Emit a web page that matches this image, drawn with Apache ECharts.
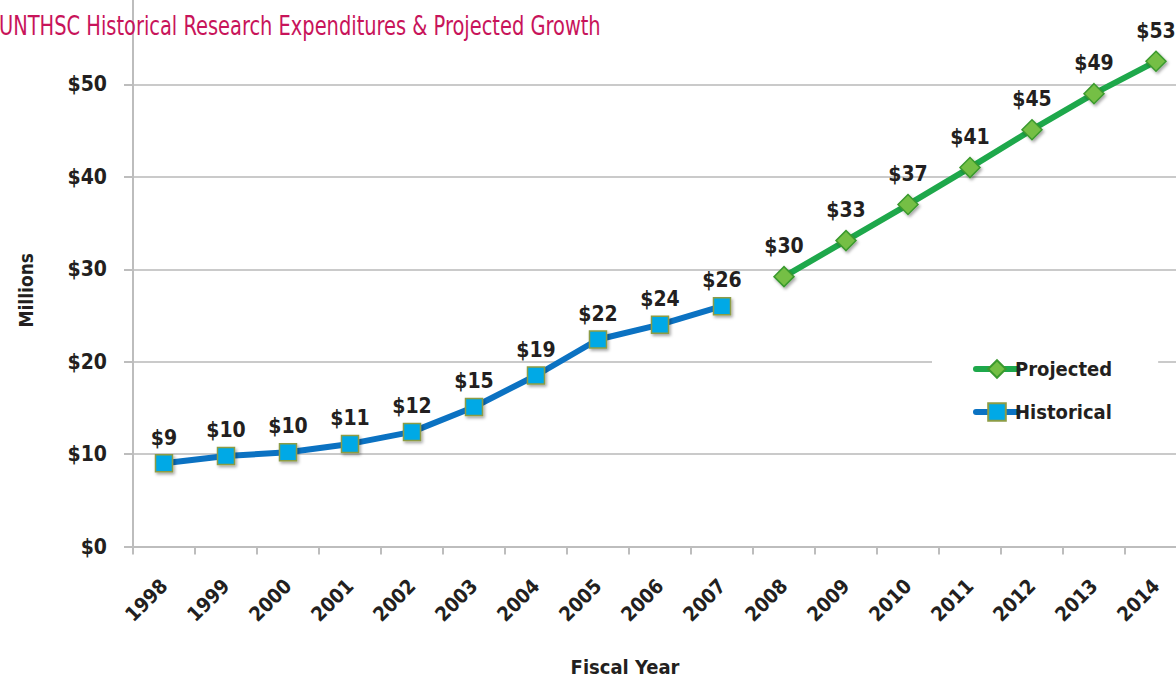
<!DOCTYPE html>
<html>
<head>
<meta charset="utf-8">
<script src="https://cdn.jsdelivr.net/npm/echarts@6/dist/echarts.min.js"></script>
<style>
html,body{margin:0;padding:0;background:#fff;}
#chart{width:1176px;height:681px;}
</style>
</head>
<body>
<div id="chart"></div>
<script>
// ---- data ----
const titleText = 'UNTHSC Historical Research Expenditures & Projected Growth';
const years = ['1998','1999','2000','2001','2002','2003','2004','2005','2006','2007','2008','2009','2010','2011','2012','2013','2014'];
const historical = [9.0, 9.8, 10.2, 11.1, 12.4, 15.1, 18.5, 22.4, 24.0, 26.0, null, null, null, null, null, null, null];
const projected  = [null, null, null, null, null, null, null, null, null, null, 29.2, 33.1, 37.0, 41.0, 45.1, 49.0, 52.5];
const historicalLabels = ['$9','$10','$10','$11','$12','$15','$19','$22','$24','$26', '', '', '', '', '', '', ''];
const projectedLabels  = ['', '', '', '', '', '', '', '', '', '', '$30','$33','$37','$41','$45','$49','$53'];
const yTickLabels = ['$0','$10','$20','$30','$40','$50'];
const yMin = 0, yMax = 60, yStep = 10;
const yAxisName = 'Millions';
const xAxisName = 'Fiscal Year';

const FONT = "'DejaVu Sans Condensed', 'Liberation Sans Narrow', sans-serif";
const TXT = '#231f20';

const chart = echarts.init(document.getElementById('chart'), null, {renderer: 'svg'});
chart.setOption({
  animation: false,
  backgroundColor: '#ffffff',
  graphic: [{
    type: 'text',
    left: -1, top: 12,
    scaleX: 0.8,
    style: {text: titleText, fill: '#c8145a', font: "normal 27px 'DejaVu Sans Condensed', sans-serif"},
    z: 10
  }],
  legend: {
    orient: 'vertical',
    left: 932, top: 347,
    padding: [12, 46, 12, 41],
    backgroundColor: '#ffffff',
    itemWidth: 42, itemHeight: 22, itemGap: 23,
    data: ['Projected', 'Historical'],
    lineStyle: {width: 6, cap: 'round'},
    textStyle: {color: TXT, fontFamily: FONT, fontWeight: 'bold', fontSize: 20, padding: [0, 0, 0, -8]}
  },
  grid: {left: 133, top: -8, width: 1054, height: 554.5, containLabel: false, outerBoundsMode: 'none'},
  xAxis: {
    type: 'category',
    data: years,
    boundaryGap: true,
    name: xAxisName,
    nameLocation: 'middle',
    nameGap: 110,
    nameTextStyle: {color: TXT, fontFamily: FONT, fontWeight: 'bold', fontSize: 20, padding: [0, 70, 0, 0]},
    axisLine: {lineStyle: {color: '#bdbdbd', width: 2}},
    axisTick: {show: true, length: 8, alignWithLabel: false, lineStyle: {color: '#bdbdbd', width: 2}},
    axisLabel: {rotate: 45, margin: 36, color: TXT, fontFamily: FONT, fontWeight: 'bold', fontSize: 20, interval: 0}
  },
  yAxis: {
    type: 'value',
    min: yMin, max: yMax, interval: yStep,
    name: yAxisName,
    nameLocation: 'middle',
    nameRotate: 90,
    nameGap: 98,
    nameTextStyle: {color: TXT, fontFamily: FONT, fontWeight: 'bold', fontSize: 19, padding: [0, 42, 0, 0]},
    axisLine: {show: true, lineStyle: {color: '#bdbdbd', width: 2}},
    axisTick: {show: true, inside: false, length: 9, lineStyle: {color: '#bdbdbd', width: 2}},
    axisLabel: {margin: 26, color: TXT, fontFamily: FONT, fontWeight: 'bold', fontSize: 21,
      formatter: v => yTickLabels[Math.round(v / yStep)] || ''},
    splitLine: {show: true, lineStyle: {color: '#cacaca', width: 2}}
  },
  series: [
    {
      name: 'Projected',
      type: 'line',
      data: projected,
      connectNulls: false,
      symbol: 'diamond',
      symbolSize: 20,
      lineStyle: {color: '#1ea84b', width: 6},
      itemStyle: {color: '#74bf44', borderColor: '#3b9a2e', borderWidth: 1.5,
        shadowColor: 'rgba(0,0,0,0.35)', shadowBlur: 3, shadowOffsetX: 1.5, shadowOffsetY: 2},
      label: {show: true, position: 'top', distance: 9, color: TXT, fontFamily: FONT, fontWeight: 'bold', fontSize: 21,
        formatter: p => projectedLabels[p.dataIndex]},
      z: 3
    },
    {
      name: 'Historical',
      type: 'line',
      data: historical,
      connectNulls: false,
      symbol: 'rect',
      symbolSize: 17,
      lineStyle: {color: '#0b72c2', width: 6},
      itemStyle: {color: '#00a9e6', borderColor: '#8c9c45', borderWidth: 1.5,
        shadowColor: 'rgba(0,0,0,0.35)', shadowBlur: 3, shadowOffsetX: 1.5, shadowOffsetY: 2},
      label: {show: true, position: 'top', distance: 6, color: TXT, fontFamily: FONT, fontWeight: 'bold', fontSize: 21,
        formatter: p => historicalLabels[p.dataIndex]},
      z: 3
    }
  ]
});
</script>
</body>
</html>
